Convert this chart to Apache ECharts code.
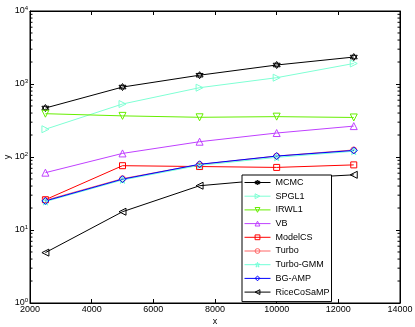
<!DOCTYPE html>
<html>
<head>
<meta charset="utf-8">
<script src="https://cdn.jsdelivr.net/npm/echarts@6/dist/echarts.min.js"></script>
<style>html,body{margin:0;padding:0;background:#fff}#main{width:415px;height:327px}</style>
</head>
<body>
<div id="main"></div>
<script>
// problem sizes on the x axis
var xs = [2500, 5000, 7500, 10000, 12500];
var mcmc = [469, 908, 1320, 1820, 2340];
var spgl1 = [240, 532, 890, 1220, 1910];
var irwl1 = [392, 366, 350, 357, 348];
var vb = [61, 112, 162, 213, 265];
var modelcs = [26, 76, 74, 72, 78];
var turbo = [25.5, 50.5, 79, 103, 125];
var turboGmm = [24.5, 48.5, 77, 99, 120];
var bgamp = [25, 49.7, 79.5, 103, 123];
var ricecosamp = [4.9, 17.8, 40.4, 50, 57];
var yDecades = [1, 10, 100, 1000, 10000];
var minorMult = [2, 3, 4, 5, 6, 7, 8, 9];

var font = 'Liberation Sans';
var hexagram = 'path://M0,-10L8.66,5L-8.66,5Z M0,10L8.66,-5L-8.66,-5Z';
var pentagram = 'path://M0,-10L2.35,-3.24L9.51,-3.09L3.8,1.24L5.88,8.09L0,4L-5.88,8.09L-3.8,1.24L-9.51,-3.09L-2.35,-3.24Z';

function mk(name, vals, color, symbol, rot, size) {
  return {
    name: name, type: 'line', data: xs.map(function (x, i) { return [x, vals[i]]; }),
    symbol: symbol, symbolRotate: rot, symbolSize: size,
    lineStyle: { color: color, width: 1 },
    itemStyle: { color: 'rgba(255,255,255,0)', borderColor: color, borderWidth: 1 },
    emphasis: { disabled: true }, animation: false, z: 3
  };
}

var minorTicks = [];
yDecades.slice(0, 4).forEach(function (d) {
  minorMult.forEach(function (m) { minorTicks.push([2000, d * m]); });
});

var chart = echarts.init(document.getElementById('main'));
chart.setOption({
  animation: false,
  grid: { left: 30, right: 15, top: 11, bottom: 24, containLabel: false, outerBoundsMode: 'none',
    show: true, borderColor: '#000', borderWidth: 1 },
  legend: {
    orient: 'vertical', left: 242, top: 175,
    padding: [2, 2, 4, 2], itemWidth: 26, itemHeight: 6, itemGap: 2.7,
    borderColor: '#000', borderWidth: 1, backgroundColor: '#fff',
    lineStyle: { width: 1 }, itemStyle: { borderWidth: 1 },
    textStyle: { fontFamily: font, fontSize: 9, color: '#000', lineHeight: 11 },
    data: ['MCMC', 'SPGL1', 'IRWL1', 'VB', 'ModelCS', 'Turbo', 'Turbo-GMM', 'BG-AMP', 'RiceCoSaMP']
  },
  xAxis: [{
    type: 'value', min: 2000, max: 14000, interval: 2000,
    name: 'x', nameLocation: 'middle', nameGap: 14, nameMoveOverlap: false,
    nameTextStyle: { fontFamily: font, fontSize: 9, color: '#000' },
    axisLine: { lineStyle: { color: '#000' } },
    axisTick: { inside: true, length: 4, lineStyle: { color: '#000' } },
    axisLabel: { fontFamily: font, fontSize: 9, color: '#000', margin: 2,
      formatter: function (v) { return String(v); } },
    splitLine: { show: false }
  }, {
    type: 'value', min: 2000, max: 14000, interval: 2000, position: 'top',
    axisLine: { lineStyle: { color: '#000' } },
    axisTick: { inside: true, length: 4, lineStyle: { color: '#000' } },
    axisLabel: { show: false }, splitLine: { show: false }
  }],
  yAxis: [{
    type: 'log', logBase: 10, min: 1, max: 10000,
    name: 'y', nameLocation: 'middle', nameGap: 18, nameMoveOverlap: false,
    nameTextStyle: { fontFamily: font, fontSize: 9, color: '#000' },
    axisLine: { lineStyle: { color: '#000' } },
    axisTick: { inside: true, length: 4, lineStyle: { color: '#000' } },
    axisLabel: {
      margin: 2, fontFamily: font, fontSize: 9, color: '#000',
      formatter: function (v) { return '10{s|' + Math.round(Math.log10(v)) + '}'; },
      rich: { s: { fontSize: 6, verticalAlign: 'top', padding: [0, 0, 6, 0], fontFamily: font } }
    },
    splitLine: { show: false }
  }, {
    type: 'log', logBase: 10, min: 1, max: 10000, position: 'right',
    axisLine: { lineStyle: { color: '#000' } },
    axisTick: { inside: true, length: 4, lineStyle: { color: '#000' } },
    axisLabel: { show: false }, splitLine: { show: false }
  }],
  series: [
    {
      type: 'custom', data: minorTicks, silent: true, z: 1,
      renderItem: function (params, api) {
        var l = api.coord([2000, api.value(1)]);
        var r = api.coord([14000, api.value(1)]);
        return { type: 'group', children: [
          { type: 'line', shape: { x1: l[0], y1: l[1], x2: l[0] + 2.5, y2: l[1] }, style: { stroke: '#000', lineWidth: 1 } },
          { type: 'line', shape: { x1: r[0], y1: r[1], x2: r[0] - 2.5, y2: r[1] }, style: { stroke: '#000', lineWidth: 1 } }
        ] };
      }
    },
    mk('MCMC', mcmc, '#000000', hexagram, 0, 7),
    mk('SPGL1', spgl1, '#7fffd4', 'triangle', -90, 7),
    mk('IRWL1', irwl1, '#66ee00', 'triangle', 180, 7),
    mk('VB', vb, '#bf40ff', 'triangle', 0, 7),
    mk('ModelCS', modelcs, '#ff0000', 'rect', 0, 6),
    mk('Turbo', turbo, '#ff6666', 'circle', 0, 6),
    mk('Turbo-GMM', turboGmm, '#70ffd8', pentagram, 0, 7),
    mk('BG-AMP', bgamp, '#0000ff', 'diamond', 0, 7),
    mk('RiceCoSaMP', ricecosamp, '#000000', 'triangle', 90, 7)
  ]
});
</script>
</body>
</html>
